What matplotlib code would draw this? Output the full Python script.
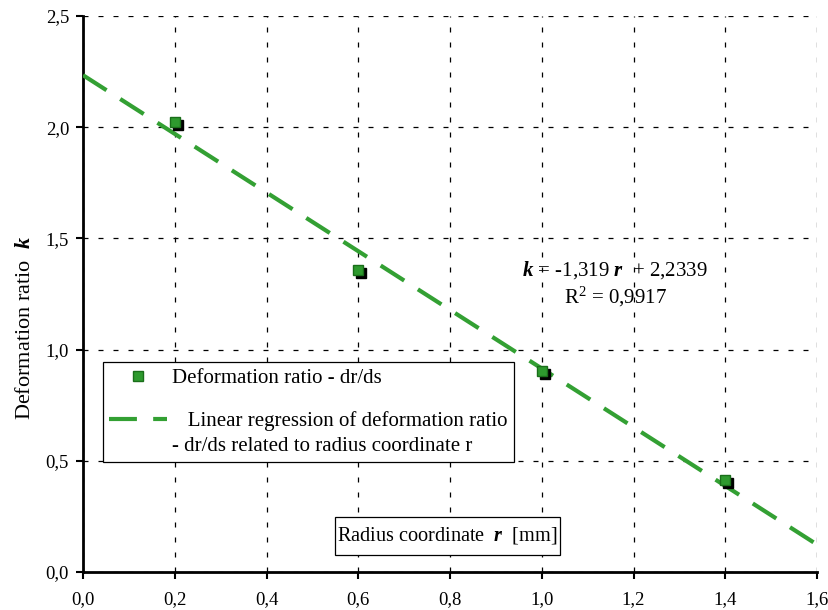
import matplotlib
matplotlib.use("Agg")
import matplotlib.pyplot as plt
import matplotlib.transforms as mtransforms
from matplotlib.patches import Rectangle
from matplotlib.legend_handler import HandlerLine2D
from matplotlib.ticker import FuncFormatter, MultipleLocator
import numpy as np

plt.rcParams['font.family'] = ['Liberation Serif', 'DejaVu Serif']
plt.rcParams['mathtext.fontset'] = 'custom'
plt.rcParams['mathtext.rm'] = 'Liberation Serif'
plt.rcParams['mathtext.it'] = 'Liberation Serif:italic'
plt.rcParams['mathtext.bf'] = 'Liberation Serif:italic:bold'

# data
r_values = [0.2, 0.6, 1.0, 1.4]
k_values = [2.025, 1.358, 0.904, 0.415]
slope = -1.319
intercept = 2.2339
fit_x = [0.0, 1.6]
r2 = 0.9917


class RaisedLineHandler(HandlerLine2D):
    """Line handle aligned with the first line of a two-line label."""
    def __init__(self, shift, **kw):
        super().__init__(**kw)
        self.shift = shift

    def create_artists(self, legend, orig_handle, xdescent, ydescent,
                       width, height, fontsize, trans):
        arts = super().create_artists(legend, orig_handle, xdescent, ydescent,
                                      width, height, fontsize, trans)
        for a in arts:
            a.set_ydata(np.asarray(a.get_ydata()) + self.shift)
        return arts


fig = plt.figure(figsize=(8.29, 6.10), dpi=100)
ax = fig.add_axes([83/829, 38/610, 734/829, 556/610])

fx = np.array(fit_x)
fit_line, = ax.plot(fx, intercept + slope * fx, color='#33a033', lw=3.0,
                    dashes=(6.7, 3.9), solid_capstyle='butt', zorder=3,
                    label='   Linear regression of deformation ratio\n- dr/ds related to radius coordinate r')

shadow = mtransforms.offset_copy(ax.transData, fig=fig, x=3, y=-3, units='dots')
ax.plot(r_values, k_values, 's', color='black', ms=7.5, transform=shadow, zorder=4)
pts, = ax.plot(r_values, k_values, 's', color='#2e9a2e', mec='#1a6e1a', mew=1.0, ms=7.5, zorder=5,
               label='Deformation ratio - dr/ds', linestyle='none')

ax.set_xlim(0, 1.6)
ax.set_ylim(0, 2.5)
ax.xaxis.set_major_locator(MultipleLocator(0.2))
ax.yaxis.set_major_locator(MultipleLocator(0.5))
fmt1 = FuncFormatter(lambda v, p: f"{v:.1f}".replace('.', ','))
ax.xaxis.set_major_formatter(fmt1)
ax.yaxis.set_major_formatter(fmt1)
ax.tick_params(axis='both', direction='out', length=5, width=1.5, labelsize=13.5)
ax.tick_params(axis='x', pad=9)
ax.tick_params(axis='y', pad=5)
ax.grid(True, color='black', linestyle=(0, (4, 8)), linewidth=0.9)
for s in ['top', 'right']:
    ax.spines[s].set_visible(False)
for s in ['left', 'bottom']:
    ax.spines[s].set_linewidth(2)

ax.set_ylabel(r'Deformation ratio  $\mathbf{k}$', fontsize=16)
ax.yaxis.set_label_coords(-(83 - 35) / 734, (572 - 328) / 556)

# x-axis title box
ax.add_patch(Rectangle(((335 - 83) / 734, (572 - 555) / 556), 225 / 734, 38 / 556,
                       transform=ax.transAxes, fc='white', ec='black', lw=0.9, zorder=6))
ax.text((447.5 - 83) / 734, (572 - 536) / 556, r'Radius coordinate  $\mathbf{r}$  [mm]',
        transform=ax.transAxes, ha='center', va='center', fontsize=14.6, zorder=7)

ax.text((615 - 83) / 734, (572 - 270) / 556, r'$\mathbf{k}$ = -1,319 $\mathbf{r}$  + 2,2339',
        transform=ax.transAxes, ha='center', va='center', fontsize=15)
ax.text((615 - 83) / 734, (572 - 297) / 556, r'R$^2$ = 0,9917',
        transform=ax.transAxes, ha='center', va='center', fontsize=15)

leg = ax.legend([pts, fit_line], [pts.get_label(), fit_line.get_label()], loc='upper left',
                bbox_to_anchor=((103 - 83) / 734, (572 - 362) / 556),
                fontsize=15, frameon=True, fancybox=False, edgecolor='black',
                framealpha=1, handlelength=2.75, borderaxespad=0, labelspacing=1.1,
                borderpad=0.3, handletextpad=0.25,
                handler_map={fit_line: RaisedLineHandler(shift=10.0)})
for t in leg.get_texts():
    t.set_linespacing(1.45)
leg.get_frame().set_linewidth(0.9)
leg.set_zorder(8)

fig.savefig('out.png', dpi=100)
